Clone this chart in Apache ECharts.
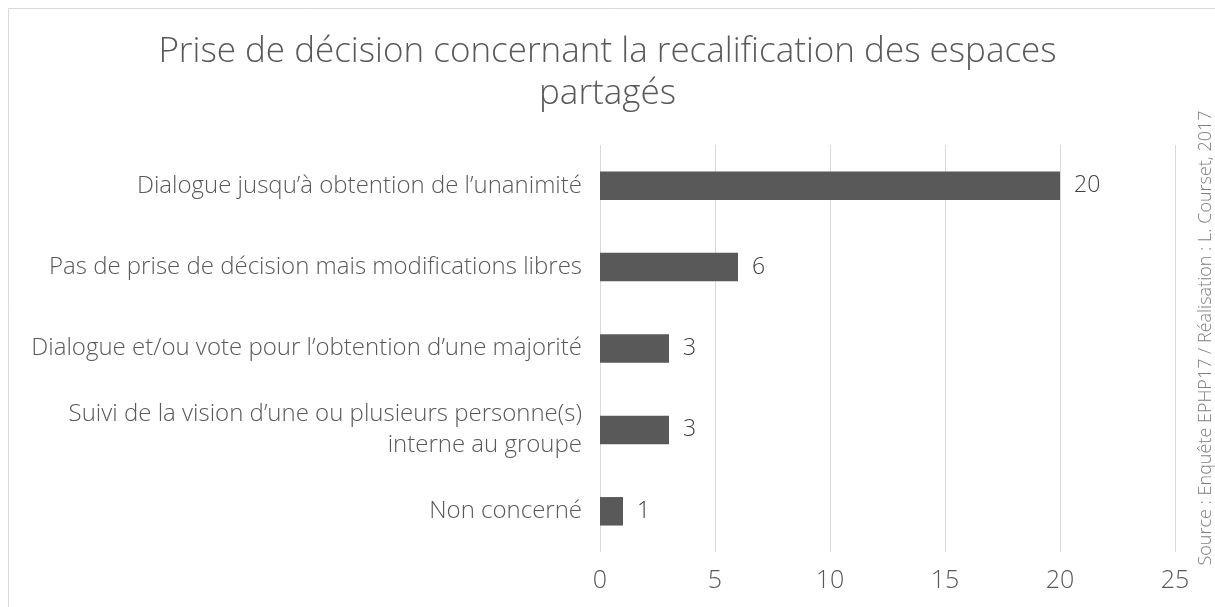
<!DOCTYPE html>
<html>
<head>
<meta charset="utf-8">
<script src="https://cdn.jsdelivr.net/npm/echarts@6/dist/echarts.min.js"></script>
<style>html,body{margin:0;padding:0;background:#fff}#c{width:1215px;height:607px}</style>
</head>
<body>
<div id="c"></div>
<script>
var categories = [
  "Dialogue jusqu\u2019à obtention de l\u2019unanimité",
  "Pas de prise de décision mais modifications libres",
  "Dialogue et/ou vote pour l\u2019obtention d\u2019une majorité",
  "Suivi de la vision d\u2019une ou plusieurs personne(s)\ninterne au groupe",
  "Non concerné"
];
var values = [20, 6, 3, 3, 1];
var xTicks = [0, 5, 10, 15, 20, 25];
var titleText = "Prise de décision concernant la recalification des espaces\npartagés";
var sourceText = "Source : Enquête EPHP17 / Réalisation : L. Courset, 2017";

var chart = echarts.init(document.getElementById('c'), null, {renderer: 'canvas'});
var font = 'Open Sans';
chart.setOption({
  animation: false,
  backgroundColor: '#fff',
  title: {
    text: titleText,
    left: 'center',
    top: 26,
    textStyle: {fontFamily: font, fontWeight: 300, fontSize: 35, color: '#595959', lineHeight: 42}
  },
  grid: {left: 600, right: 40, top: 145, bottom: 55, containLabel: false},
  xAxis: {
    type: 'value', min: 0, max: 25, interval: 5,
    axisLine: {show: false}, axisTick: {show: false},
    splitLine: {lineStyle: {color: '#d9d9d9', width: 1}},
    axisLabel: {fontFamily: font, fontWeight: 300, fontSize: 25, color: '#595959', margin: 16,
      formatter: function(v){ return xTicks.indexOf(v) >= 0 ? String(v) : ''; }}
  },
  yAxis: {
    type: 'category', inverse: true, data: categories,
    axisLine: {show: false}, axisTick: {show: false},
    axisLabel: {fontFamily: font, fontWeight: 300, fontSize: 24, color: '#595959', margin: 18, lineHeight: 31, align: 'right'}
  },
  series: [{
    type: 'bar', data: values, barWidth: '35%',
    itemStyle: {color: '#595959'},
    label: {show: true, position: 'right', distance: 14, fontFamily: font, fontWeight: 300, fontSize: 23, color: '#404040'}
  }],
  graphic: [
    {type: 'rect', shape: {x: 8.5, y: 8.5, width: 1300, height: 700}, style: {fill: 'none', stroke: '#d9d9d9', lineWidth: 1}, silent: true},
    {type: 'text', x: 1206, y: 338, rotation: Math.PI/2,
      style: {text: sourceText, fontFamily: font, fontWeight: 300, fontSize: 18, fill: '#7f7f7f', align: 'center', verticalAlign: 'middle'}}
  ]
});
</script>
</body>
</html>
